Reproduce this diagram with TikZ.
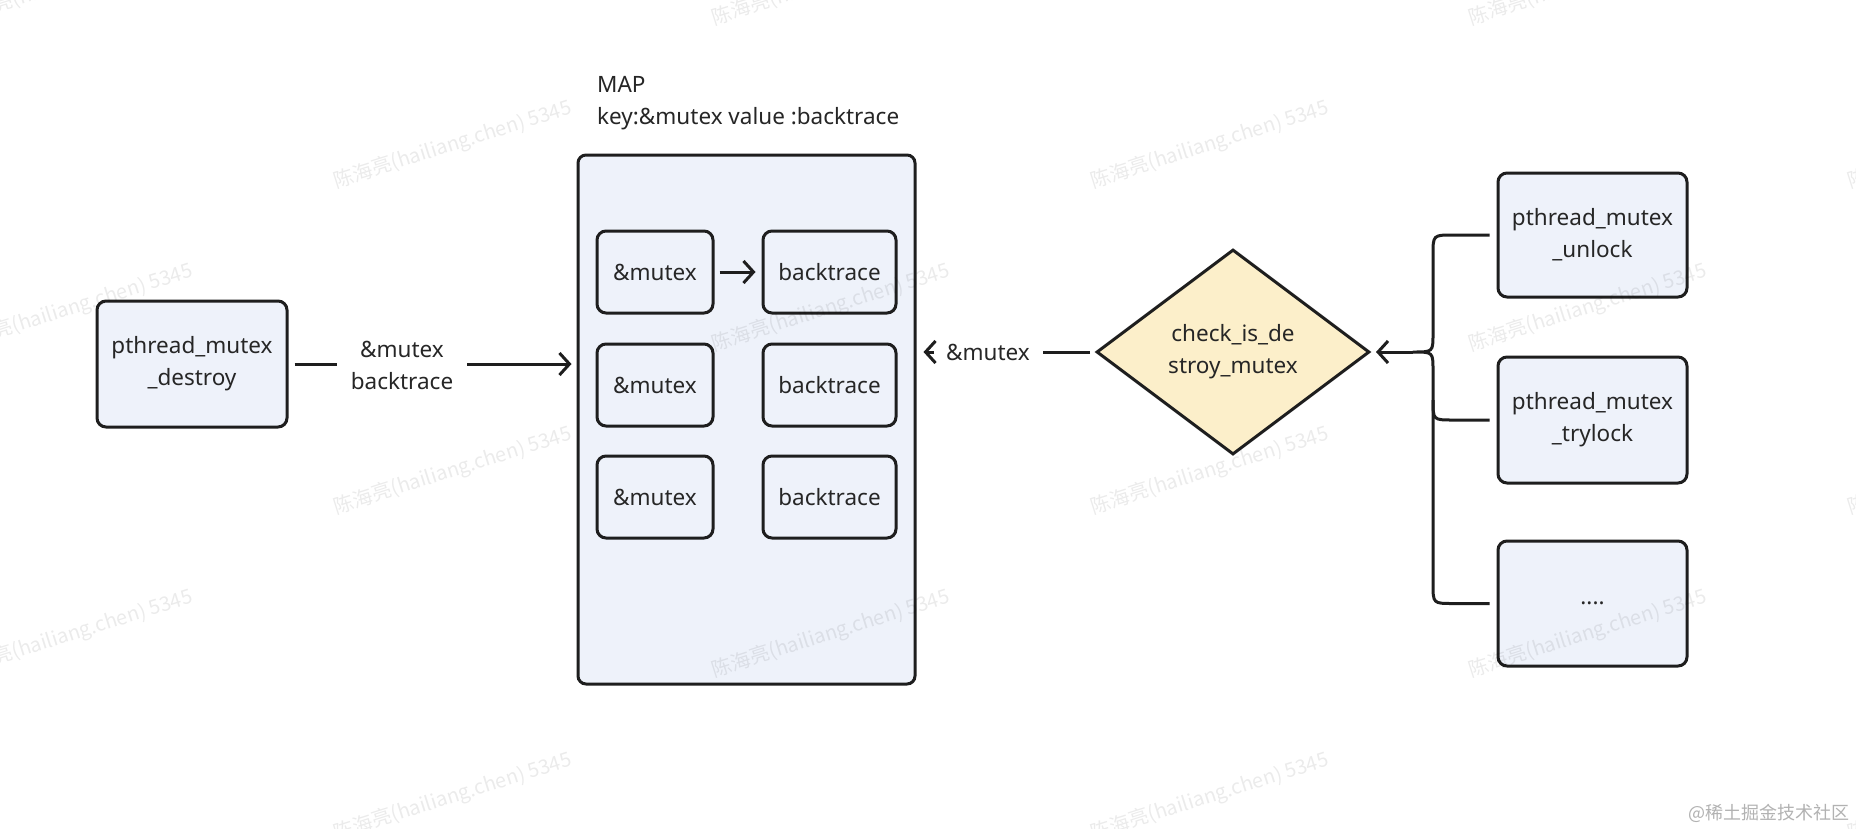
\documentclass[tikz,border=0pt]{standalone}
\usepackage{fontspec}
\setmainfont{Noto Sans}
\newfontfamily\cjkfont{Noto Sans CJK SC}
\usetikzlibrary{shapes.geometric,arrows.meta}
\definecolor{boxfill}{HTML}{EEF2FA}
\definecolor{diafill}{HTML}{FCEFCA}
\definecolor{ink}{HTML}{1E1E1E}
\definecolor{txt}{HTML}{262626}
\begin{document}
\begin{tikzpicture}[x=1pt,y=-1pt,
  every node/.style={font=\fontsize{22.5}{32}\selectfont, text=txt},
  box/.style={draw=ink, line width=3pt, fill=boxfill, rounded corners=9pt, inner sep=0pt, align=center},
  lnk/.style={draw=ink, line width=3pt, line join=round},
  arr/.style={lnk, -{Straight Barb[length=10pt,width=22pt]}},
  wm/.style={rotate=17.5, text=black, text opacity=0.08, font=\cjkfont\fontsize{20}{24}\selectfont}
]
\useasboundingbox (0,0) rectangle (1856,828);
\fill[white] (0,0) rectangle (1856,828);

% left
\node[box, minimum width=190pt, minimum height=126pt] (destroy) at (192,364) {pthread\_mutex\\\_destroy};
\node[inner xsep=14pt, inner ysep=0pt, align=center] (lbl1) at (402,365) {\&mutex\\backtrace};

% map
\node[box, minimum width=337pt, minimum height=529pt, rounded corners=8pt] (map) at (746.5,419.5) {};
\node[anchor=base west, inner sep=0pt] (t1) at (597,92) {MAP};
\node[anchor=base west, inner sep=0pt] (t2) at (597,124) {key:\&mutex value :backtrace};

\node[box, minimum width=116pt, minimum height=82pt] (k1) at (655,272) {\&mutex};
\node[box, minimum width=133pt, minimum height=82pt] (v1) at (829.5,272) {backtrace};
\node[box, minimum width=116pt, minimum height=82pt] (k2) at (655,385) {\&mutex};
\node[box, minimum width=133pt, minimum height=82pt] (v2) at (829.5,385) {backtrace};
\node[box, minimum width=116pt, minimum height=82pt] (k3) at (655,497) {\&mutex};
\node[box, minimum width=133pt, minimum height=82pt] (v3) at (829.5,497) {backtrace};

% diamond
\node[draw=ink, line width=3pt, fill=diafill, shape=diamond, aspect=1.33,
      minimum width=273pt, minimum height=205pt, inner sep=0pt, align=center] (dia) at (1233,352) {check\_is\_de\\stroy\_mutex};
\node[inner sep=0pt] (lbl2) at (988,352) {\&mutex};

% right boxes
\node[box, minimum width=189pt, minimum height=124pt] (u) at (1592.5,235) {pthread\_mutex\\\_unlock};
\node[box, minimum width=189pt, minimum height=126pt] (t) at (1592.5,420) {pthread\_mutex\\\_trylock};
\node[box, minimum width=189pt, minimum height=125pt] (d) at (1592.5,603.5) {....};

% connectors
\draw[lnk] ([xshift=6pt]destroy.east) -- (lbl1.west |- destroy.east);
\draw[arr] (lbl1.east |- destroy.east) -- ([xshift=-5pt]destroy.east -| map.west);
\draw[arr] ([xshift=5pt]k1.east) -- ([xshift=-6pt]v1.west);
\draw[lnk] ([xshift=-5pt]dia.west) -- ([xshift=13pt]dia.west -| lbl2.east);
\draw[arr] ([xshift=-12pt]dia.west -| lbl2.west) -- ([xshift=7pt]dia.west -| map.east);

\coordinate (tip) at (1413,352);
\draw[lnk] ([xshift=-7pt]u.west) -- (1453,235) .. controls (1433,235) .. (1433,255) -- (1433,334)
  .. controls (1433,352) .. (tip) .. controls (1433,352) .. (1433,370) -- (1433,583.5)
  .. controls (1433,603.5) .. (1453,603.5) -- ([xshift=-7pt]d.west);
\draw[lnk] (1433,400) .. controls (1433,420) .. (1453,420) -- ([xshift=-7pt]t.west);
\draw[arr] (tip) -- ([xshift=5pt]dia.east);

% watermarks
\begin{scope}
\clip (0,0) rectangle (1856,828);
\foreach \x/\y [count=\i] in {74/-18, 831/-18, 1588/-18,
  453/145, 1210/145, 1967/145,
  74/308, 831/308, 1588/308,
  453/471, 1210/471, 1967/471,
  74/634, 831/634, 1588/634,
  453/797, 1210/797, 1967/797}
  \node[wm] (wm\i) at (\x,\y) {陈海亮(hailiang.chen) 5345};
\end{scope}
\node[anchor=east, inner sep=0pt, text=black!30, font=\cjkfont\fontsize{18}{20}\selectfont] (src) at (1850,813) {@稀土掘金技术社区};
\end{tikzpicture}
\end{document}
